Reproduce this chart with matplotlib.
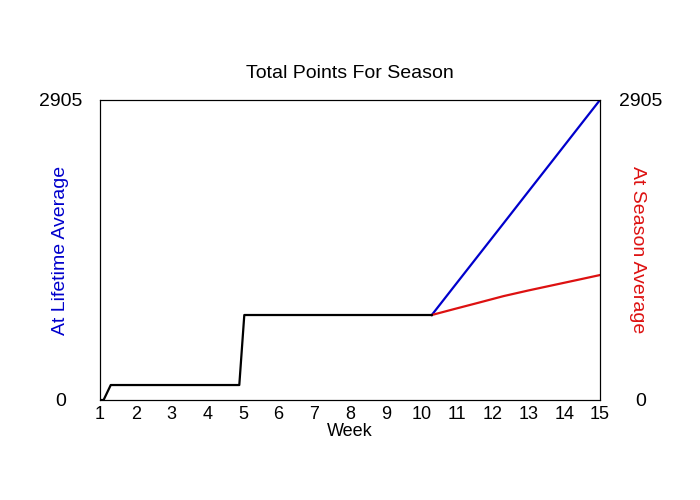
import matplotlib.pyplot as plt

plt.rcParams['font.family'] = ['Liberation Sans', 'DejaVu Sans']

# season so far (black)
week_actual = [1.0, 1.1, 1.3, 4.9, 5.04, 10.29]
pts_actual = [0, 0, 145, 145, 823, 823]

# projections from week 10.29 on
week_proj = [10.29, 10.9, 11.6, 12.3, 13.0, 13.7, 14.4, 15.0]
pts_life = [823, 1093, 1402, 1711, 2021, 2330, 2640, 2905]    # lifetime avg (blue)
pts_season = [823, 879, 942, 1006, 1061, 1113, 1165, 1210]    # season avg (red)

y_max = 2905
blue = '#0000cc'
red = '#dd1111'

fig = plt.figure(figsize=(7, 5), dpi=100)
ax = fig.add_axes([0.1429, 0.2, 0.7142, 0.6])
ax.plot(week_proj, pts_life, color=blue, lw=1.6)
ax.plot(week_proj, pts_season, color=red, lw=1.6)
ax.plot(week_actual, pts_actual, color='black', lw=1.6)

ax.set_xlim(1, 15)
ax.set_ylim(0, y_max)
ax.set_xticks(range(1, 16))
ax.set_yticks([0, y_max])
ax.tick_params(axis='x', length=0, labelsize=13, pad=4)
ax.tick_params(axis='y', length=0, labelsize=14, pad=28)
for t in ax.get_yticklabels():
    t.set_ha('center')
ax.set_xlabel('Week', fontsize=13, labelpad=0)
ax.set_ylabel('At Lifetime Average', color=blue, fontsize=14, va='center')
ax.yaxis.set_label_coords(-0.08, 0.5)
ax.set_title('Total Points For Season', fontsize=14, pad=16)

ax2 = ax.twinx()
ax2.set_ylim(0, y_max)
ax2.set_yticks([0, y_max])
ax2.tick_params(length=0, labelsize=14, pad=29)
for t in ax2.get_yticklabels():
    t.set_ha('center')
ax2.set_ylabel('At Season Average', color=red, fontsize=14,
    rotation=270, va='center')
ax2.yaxis.set_label_coords(1.076, 0.5)

fig.savefig('out.png')
